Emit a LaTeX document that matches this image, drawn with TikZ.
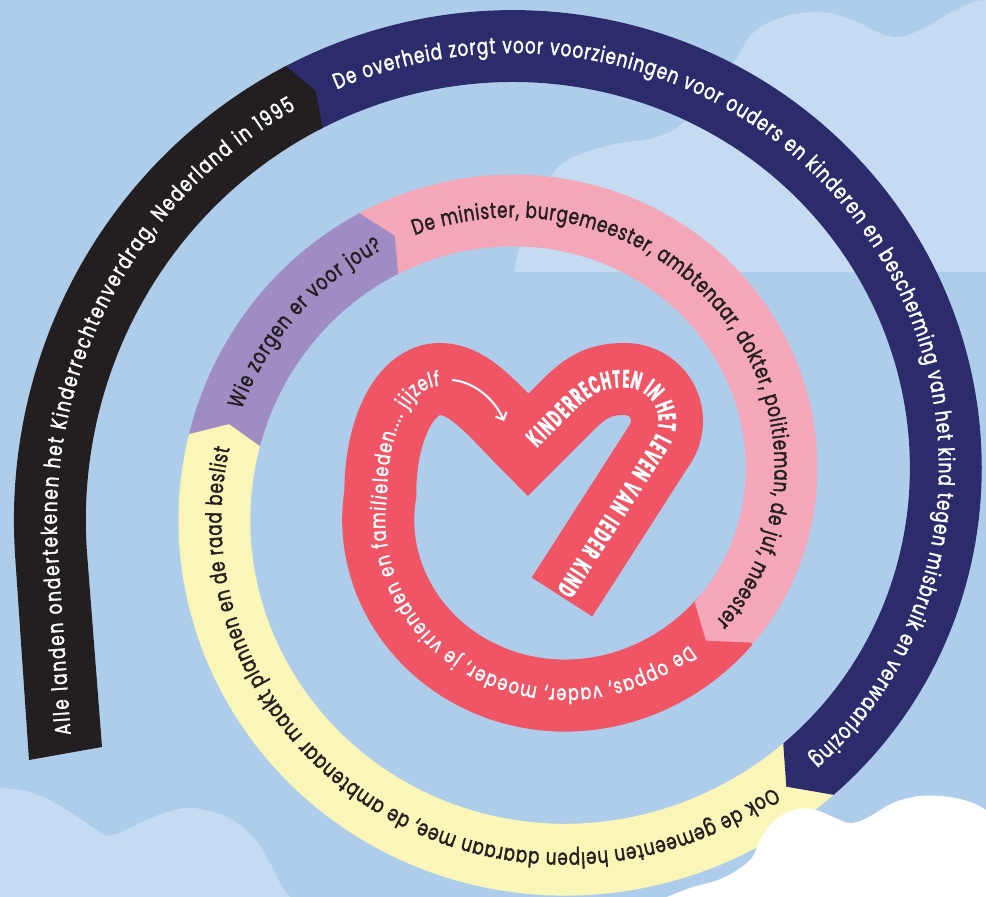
\documentclass[tikz,border=0pt]{standalone}
\usepackage{fontspec}
\setmainfont{Poppins}
\newfontfamily\bandfont{Poppins}[FakeStretch=0.76, FakeBold=1.6]
\newfontfamily\heartfont{Poppins}[FakeStretch=0.53, FakeBold=1.0]
\usetikzlibrary{decorations.text,arrows.meta}
\definecolor{bg}{HTML}{AECDEA}
\definecolor{cloud}{HTML}{C4DBF1}
\definecolor{bandblack}{HTML}{231F20}
\definecolor{navy}{HTML}{2C2C6C}
\definecolor{bandyellow}{HTML}{FAF6B8}
\definecolor{purple}{HTML}{9F8CC3}
\definecolor{pink}{HTML}{F4A7B9}
\definecolor{bandred}{HTML}{F05566}
\definecolor{ink}{HTML}{231F20}
% #1 colour, #2 start angle, #3 end angle, #4 angle of the chevron tip
\newcommand\spiralband[4]{%
  \fill[#1] plot[domain=#2:#3, samples=120] (\x:{442+0.458*\x})
    -- (#4:{406+0.458*(#4)})
    -- plot[domain=#3:#2, samples=120] (\x:{370+0.458*\x}) -- cycle;}
\tikzset{
  bandtext/.style={decorate, decoration={text along path, raise=-7pt, text color=#1}},
}
\begin{document}
\begin{tikzpicture}[x=1pt,y=1pt]
\useasboundingbox (0,0) rectangle (986,897);
\fill[bg] (0,0) rectangle (986,897);
% light clouds
\fill[cloud] plot[smooth, tension=0.6] coordinates {(514,625) (520,650) (537,697) (563,734) (610,752) (657,760) (690,780) (733,834) (753,864) (783,880) (820,885) (853,877) (877,865) (897,860) (920,867) (950,884) (975,896)} -- (986,897) -- (986,625) -- cycle;
\fill[cloud] (0,0) -- (0,109) -- plot[smooth, tension=0.6] coordinates {(0,109) (33,104) (67,87) (100,65) (113,62) (140,74) (167,85) (193,89) (227,80) (253,60) (270,34) (280,14) (290,0)} -- cycle;
\begin{scope}[shift={(539,403)}]
% red band with heart
\draw[line width=72pt, bandred] plot[domain=-394.1:-540, samples=100] (\x:{406+0.458*\x})
  .. controls (-159,64) and (-134,115) .. (-99,115)
  .. controls (-69,115) and (-44,82) .. (-11,49) -- (31,91)
  .. controls (51,111) and (66,115) .. (86,115)
  arc[start angle=90, end angle=-32.6, radius=42] -- (23,-103);
\spiralband{pink}{-236.8}{-394.7}{-401.3}
\spiralband{purple}{-189.1}{-237.4}{-240.8}
\spiralband{bandyellow}{-45.0}{-189.7}{-192.7}
\spiralband{navy}{121.2}{-45.6}{-49.8}
\fill[bandblack] plot[domain=187:120.6, samples=80] (\x:{442+0.458*\x})
  -- (119:{406+0.458*119})
  -- plot[domain=120.6:187, samples=80] (\x:{370+0.458*\x})
  -- (-437,-253) -- (-510,-266) -- cycle;
\end{scope}
% white cloud
\fill[white] (667,0) -- plot[smooth, tension=0.6] coordinates {(667,0) (690,9) (723,19) (750,37) (760,57) (773,75) (793,87) (813,88) (833,80) (850,74) (867,79) (893,94) (920,101) (950,100) (973,94) (986,87)} -- (986,0) -- cycle;
\begin{scope}[shift={(539,403)}]
% texts
\begingroup\bandfont\fontsize{22}{22}\selectfont
\path[bandtext=white, decoration={text={Alle landen ondertekenen het Kinderrechtenverdrag, Nederland in 1995}, text align={fit to path, left indent=18pt, right indent=2pt}}]
  (-474,-259) -- plot[domain=187:122, samples=60] (\x:{406+0.458*\x});
\path[bandtext=white, decoration={text={De overheid zorgt voor voorzieningen voor ouders en kinderen en bescherming van het kind tegen misbruik en verwaarlozing}, text align={fit to path}}]
  plot[domain=116.5:-44.5, samples=150] (\x:{406+0.458*\x});
\path[bandtext=ink, decoration={text={Ook de gemeenten helpen daaraan mee, de ambtenaar maakt plannen en de raad beslist}, text align={fit to path}}]
  plot[domain=-51.5:-188.5, samples=150] (\x:{406+0.458*\x});
\path[bandtext=ink, decoration={text={Wie zorgen er voor jou?}, text align={fit to path}}]
  plot[domain=-196:-237.5, samples=60] (\x:{406+0.458*\x});
\path[bandtext=ink, decoration={text={De minister, burgemeester, ambtenaar, dokter, politieman, de juf, meester}, text align={fit to path}}]
  plot[domain=-244.5:-396, samples=150] (\x:{406+0.458*\x});
\endgroup
\begingroup\bandfont\fontsize{21}{21}\selectfont
\path[bandtext=white, decoration={text={De oppas, vader, moeder, je vrienden en familieleden.... jijzelf}, text align={fit to path, right indent=1pt}}]
  plot[domain=-405.5:-540, samples=100] (\x:{406+0.458*\x})
  .. controls (-159,64) and (-134,115) .. (-99,115);
\endgroup
\begingroup\heartfont\bfseries\fontsize{25}{25}\selectfont
\path[bandtext=white, decoration={text={KINDERRECHTEN IN HET LEVEN VAN IEDER KIND}, raise=-8.5pt, text align={fit to path, left indent=4pt, right indent=3pt}}]
  (-11,49) -- (31,91) .. controls (51,111) and (66,115) .. (86,115)
  arc[start angle=90, end angle=-32.6, radius=42] -- (23,-103);
\endgroup
% arrow
\coordinate (arrA) at (-87,114);
\coordinate (arrB) at (-35,73);
\draw[white, line width=2pt, -{Straight Barb[length=6pt,width=12pt]}] (arrA) .. controls (-64,112) and (-44,94) .. (arrB);
\end{scope}
\end{tikzpicture}
\end{document}
